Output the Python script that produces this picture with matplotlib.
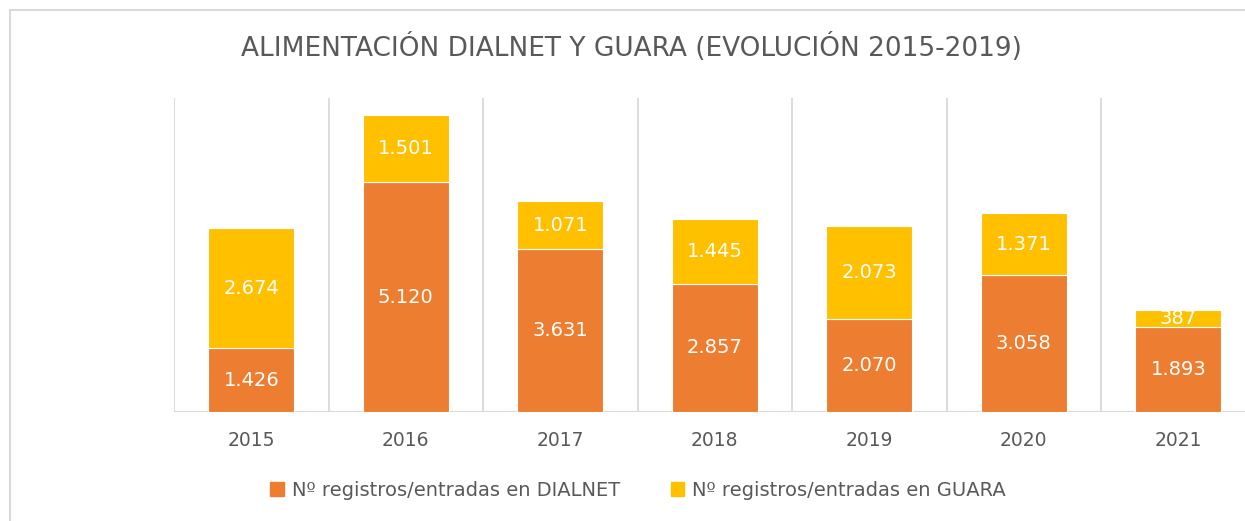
import matplotlib
matplotlib.use("Agg")
import matplotlib.pyplot as plt
from matplotlib.lines import Line2D
from matplotlib.patches import Patch
import numpy as np

years = ["2015", "2016", "2017", "2018", "2019", "2020", "2021"]
dialnet = [1426, 5120, 3631, 2857, 2070, 3058, 1893]
guara = [2674, 1501, 1071, 1445, 2073, 1371, 387]
series_names = ["Nº registros/entradas en DIALNET", "Nº registros/entradas en GUARA"]
title = "ALIMENTACIÓN DIALNET Y GUARA (EVOLUCIÓN 2015-2019)"

c_dialnet = "#ED7D31"
c_guara = "#FFC000"
grid_c = "#D9D9D9"
text_c = "#595959"


def fmt(v):
    return f"{v:,}".replace(",", ".")


W, H = 1245, 521
fig = plt.figure(figsize=(W / 100, H / 100), dpi=100)
ax = fig.add_axes([174 / W, 1 - 412 / H, 1081.5 / W, 314 / H])

x = np.arange(len(years))
bw = 0.556
b1 = ax.bar(x, dialnet, bw, color=c_dialnet, edgecolor="white", linewidth=0.8, zorder=3)
b2 = ax.bar(x, guara, bw, bottom=dialnet, color=c_guara, edgecolor="white", linewidth=0.8, zorder=3)

for bars, vals in ((b1, dialnet), (b2, guara)):
    for r, v in zip(bars, vals):
        ax.text(r.get_x() + r.get_width() / 2, r.get_y() + r.get_height() / 2, fmt(v),
                ha="center", va="center", color="white", fontsize=14, zorder=4)

ax.set_xlim(-0.5, len(years) - 0.5)
ax.set_ylim(0, 7000)
for gx in np.arange(-0.5, len(years), 1.0):
    ax.axvline(gx, color=grid_c, lw=1.3, zorder=1)

for s in ax.spines.values():
    s.set_visible(False)
ax.axhline(0, color=grid_c, lw=1.5, zorder=2)
ax.set_yticks([])
ax.set_xticks(x)
ax.set_xticklabels(years)
ax.tick_params(axis="x", length=0, pad=14, labelsize=13.5, labelcolor=text_c)

fig.text(631 / W, 1 - 47 / H, title, ha="center", va="center", fontsize=19, color=text_c)

handles = [Patch(color=c_dialnet), Patch(color=c_guara)]
fig.legend(handles, series_names, loc="center", bbox_to_anchor=(638 / W, 1 - 490 / H),
           ncol=2, frameon=False, fontsize=14, labelcolor=text_c,
           handlelength=0.7, handleheight=0.7, handletextpad=0.4, columnspacing=2.6)

# chart border (top and left visible)
fig.add_artist(Line2D([10 / W, 10 / W], [0, 1 - 10 / H], color=grid_c, lw=1.5))
fig.add_artist(Line2D([10 / W, 1], [1 - 10 / H, 1 - 10 / H], color=grid_c, lw=1.5))

fig.savefig("out.png", dpi=100)
